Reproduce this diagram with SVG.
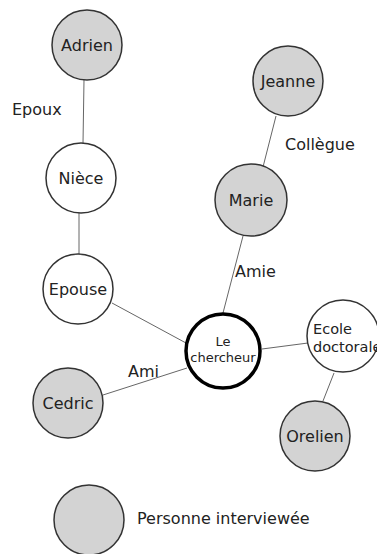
<svg xmlns="http://www.w3.org/2000/svg" width="377" height="554" viewBox="0 0 377 554">
<style>
.n{fill:#fff;stroke:#333;stroke-width:1.5}
.g{fill:#d3d3d3;stroke:#333;stroke-width:1.5}
.c{fill:#fff;stroke:#000;stroke-width:3.5}
.e{stroke:#666;stroke-width:1;fill:none}
text{font-family:"DejaVu Sans",Verdana,sans-serif;fill:#222;font-size:16px}
.m{text-anchor:middle}
</style>
<rect width="377" height="554" fill="#fff"/>
<g id="connectors">
<line class="e" x1="84" y1="80" x2="83" y2="143"/>
<line class="e" x1="79" y1="212" x2="79" y2="254"/>
<line class="e" x1="112" y1="303" x2="186" y2="343"/>
<line class="e" x1="103" y1="395" x2="187" y2="368"/>
<line class="e" x1="276" y1="116" x2="263" y2="167"/>
<line class="e" x1="243" y1="236" x2="223" y2="313"/>
<line class="e" x1="262" y1="349" x2="308" y2="343"/>
<line class="e" x1="334" y1="373" x2="323" y2="401"/>
<text x="12" y="115">Epoux</text>
<text x="285" y="150">Collègue</text>
<text x="235" y="277">Amie</text>
<text x="128" y="377">Ami</text>
</g>
<g id="adrien"><circle class="g" cx="87" cy="45" r="35"/><text class="m" x="87" y="51">Adrien</text></g>
<g id="niece"><circle class="n" cx="81" cy="178" r="35"/><text class="m" x="81" y="184">Nièce</text></g>
<g id="epouse"><circle class="n" cx="78" cy="289" r="35"/><text class="m" x="78" y="295">Epouse</text></g>
<g id="cedric"><circle class="g" cx="68" cy="403" r="35"/><text class="m" x="68" y="409">Cedric</text></g>
<g id="jeanne"><circle class="g" cx="288" cy="81" r="35"/><text class="m" x="288" y="87">Jeanne</text></g>
<g id="marie"><circle class="g" cx="251" cy="200" r="36"/><text class="m" x="251" y="206">Marie</text></g>
<g id="chercheur"><circle class="c" cx="223" cy="351" r="37"/><text class="m" x="223" y="346" style="font-size:13px">Le</text><text class="m" x="223" y="362" style="font-size:13px">chercheur</text></g>
<g id="ecole"><circle class="n" cx="343" cy="336" r="36"/><text x="313" y="334" style="font-size:14.5px">Ecole</text><text x="313" y="352" style="font-size:14.5px">doctorale</text></g>
<g id="orelien"><circle class="g" cx="315" cy="436" r="35"/><text class="m" x="315" y="442">Orelien</text></g>
<g id="legend"><circle class="g" cx="89" cy="520" r="35"/><text x="137" y="524">Personne interviewée</text></g>
</svg>
